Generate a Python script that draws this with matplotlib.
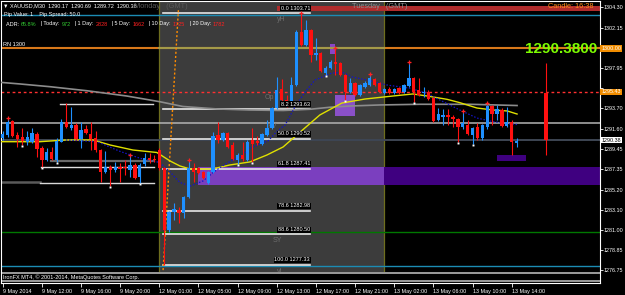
import numpy as np
import matplotlib
matplotlib.use('Agg')
import matplotlib.pyplot as plt
from matplotlib.transforms import blended_transform_factory

plt.rcParams['font.family'] = ['Liberation Sans', 'DejaVu Sans']

# ---------------- data ----------------
bar_idx = list(range(106)) + [111]
opens = [1290.60, 1290.92, 1292.39, 1290.92, 1290.68, 1290.22, 1290.22, 1291.03, 1289.56, 1288.31,
         1289.18, 1288.31, 1290.22, 1292.32, 1291.70, 1291.97, 1290.47, 1291.52, 1291.03, 1290.58,
         1289.35, 1287.08, 1287.54, 1287.22, 1287.54, 1287.54, 1287.26, 1287.78, 1286.49, 1287.85,
         1288.48, 1288.45, 1289.40, 1287.44, 1280.97, 1282.89, 1283.07, 1282.72, 1284.46, 1287.44,
         1287.44, 1287.08, 1285.86, 1287.08, 1290.92, 1290.40, 1291.10, 1289.88, 1288.31, 1288.83,
         1288.31, 1290.40, 1290.33, 1289.98, 1290.92, 1291.62, 1293.72, 1295.71, 1294.59, 1294.41,
         1296.16, 1301.74, 1300.35, 1301.92, 1299.30, 1299.48, 1297.45, 1297.91, 1298.60, 1298.43,
         1297.21, 1295.46, 1296.34, 1295.11, 1296.00, 1296.16, 1296.76, 1296.34, 1295.36, 1295.71,
         1295.36, 1295.82, 1295.46, 1296.06, 1296.92, 1295.64, 1295.29, 1295.46, 1294.77, 1292.50,
         1292.84, 1293.02, 1292.84, 1292.57, 1291.73, 1291.97, 1290.92, 1291.73, 1290.58, 1291.73,
         1293.96, 1293.12, 1293.54, 1291.87, 1292.32, 1290.05, 1295.29]
highs = [1291.35, 1292.67, 1292.50, 1291.27, 1291.65, 1291.33, 1291.65, 1291.20, 1289.76, 1289.56,
         1289.70, 1290.58, 1292.57, 1294.24, 1293.89, 1292.18, 1292.32, 1291.97, 1292.32, 1291.38,
         1289.46, 1289.28, 1287.78, 1288.13, 1287.96, 1288.31, 1288.72, 1287.99, 1287.99, 1289.01,
         1289.04, 1288.83, 1289.60, 1287.60, 1283.00, 1283.77, 1283.41, 1284.55, 1288.23, 1287.96,
         1287.60, 1287.20, 1287.20, 1291.27, 1292.32, 1291.27, 1291.24, 1290.22, 1289.04, 1290.22,
         1290.40, 1291.62, 1290.82, 1291.15, 1292.50, 1293.85, 1296.97, 1296.76, 1295.11, 1297.03,
         1301.92, 1303.60, 1302.97, 1302.05, 1301.05, 1299.65, 1298.15, 1298.75, 1300.00, 1298.55,
         1297.35, 1296.90, 1296.48, 1296.27, 1296.55, 1297.28, 1296.90, 1296.45, 1295.85, 1295.92,
         1295.82, 1295.95, 1296.30, 1298.50, 1297.05, 1296.92, 1295.95, 1295.60, 1294.90, 1293.72,
         1293.65, 1293.62, 1293.00, 1292.70, 1293.36, 1292.50, 1291.75, 1292.18, 1292.05, 1294.24,
         1294.10, 1294.07, 1293.70, 1293.89, 1292.45, 1290.62, 1298.43]
lows = [1290.40, 1290.72, 1290.72, 1289.70, 1289.88, 1289.88, 1290.10, 1288.65, 1287.60, 1288.20,
        1288.31, 1288.13, 1290.19, 1291.66, 1291.45, 1290.40, 1289.53, 1291.03, 1289.35, 1289.15,
        1286.03, 1286.94, 1285.58, 1287.05, 1286.03, 1286.73, 1286.56, 1286.31, 1285.86, 1287.68,
        1287.99, 1288.10, 1287.30, 1277.33, 1280.76, 1282.02, 1281.74, 1282.20, 1284.30, 1286.03,
        1286.80, 1286.30, 1285.79, 1286.95, 1290.08, 1290.29, 1289.56, 1288.31, 1287.89, 1288.20,
        1288.20, 1288.13, 1289.88, 1289.90, 1290.80, 1291.50, 1293.60, 1294.38, 1293.89, 1294.28,
        1296.06, 1300.25, 1300.20, 1298.60, 1298.78, 1297.50, 1297.21, 1297.80, 1297.21, 1297.10,
        1294.59, 1295.35, 1295.00, 1295.01, 1295.85, 1296.05, 1296.05, 1295.35, 1295.25, 1295.22,
        1295.25, 1295.18, 1295.35, 1295.95, 1294.41, 1295.00, 1294.90, 1294.60, 1292.30, 1292.40,
        1291.97, 1291.97, 1291.73, 1290.22, 1291.60, 1290.90, 1289.98, 1290.45, 1290.45, 1291.60,
        1291.97, 1292.50, 1291.75, 1291.75, 1288.83, 1289.63, 1288.83]
closes = [1291.00, 1292.32, 1290.82, 1290.50, 1290.29, 1290.72, 1291.10, 1289.46, 1288.31, 1289.18,
          1288.41, 1290.29, 1292.32, 1291.79, 1291.97, 1290.47, 1291.45, 1291.10, 1290.47, 1289.35,
          1287.08, 1287.60, 1287.26, 1287.60, 1287.40, 1287.44, 1287.78, 1286.39, 1287.78, 1288.48,
          1288.31, 1288.31, 1287.44, 1280.97, 1282.89, 1283.14, 1282.72, 1284.46, 1287.44, 1287.08,
          1286.91, 1286.39, 1287.08, 1290.82, 1290.40, 1291.10, 1289.70, 1288.38, 1288.83, 1288.38,
          1290.22, 1289.98, 1290.05, 1291.03, 1291.62, 1293.72, 1295.64, 1294.59, 1294.31, 1296.16,
          1301.74, 1300.35, 1301.92, 1299.30, 1299.48, 1297.66, 1297.91, 1298.60, 1298.36, 1297.21,
          1295.46, 1296.34, 1295.11, 1296.16, 1296.40, 1296.86, 1296.16, 1295.46, 1295.71, 1295.36,
          1295.71, 1295.29, 1296.16, 1296.86, 1295.46, 1295.11, 1295.46, 1294.66, 1292.39, 1293.12,
          1293.02, 1292.78, 1292.57, 1291.79, 1292.21, 1291.03, 1291.62, 1290.58, 1291.97, 1293.96,
          1293.12, 1293.62, 1291.87, 1292.32, 1290.22, 1290.33, 1290.38]

fractal_up_idx = [1, 26, 38, 61, 68, 75, 83, 94, 99]
fractal_dn_idx = [4, 8, 11, 22, 28, 48, 51, 66, 70, 84, 93, 96]

# moving averages
yellow_x = [-0.5, 7.6, 12.9, 18.5, 21.9, 26.6, 31.5, 34.2, 36.2, 38.3, 42.8, 46.4, 50.5, 54.0,
            57.3, 60.8, 64.8, 69.3, 74.0, 79.8, 83.8, 86.7, 90.8, 93.4, 96.9, 100.2, 103.1, 105.1]
yellow_y = [1290.22, 1290.22, 1290.40, 1290.40, 1289.88, 1289.35, 1289.09, 1288.20, 1287.68, 1287.36,
            1287.36, 1287.78, 1288.10, 1288.83, 1289.67, 1291.24, 1293.02, 1294.27, 1294.69, 1295.01,
            1295.22, 1295.01, 1294.66, 1294.31, 1293.75, 1293.54, 1293.44, 1293.12]
blue_x = [12.9, 19.3, 24.0, 28.1, 32.1, 34.2, 36.2, 38.3, 40.9, 43.4, 45.8, 48.9, 50.5, 54.2, 56.1,
          57.7, 59.7, 61.8, 63.8, 67.3, 69.5, 71.4, 74.4, 78.5, 83.2, 86.7, 90.0, 93.4, 96.9, 100.2,
          103.7, 105.1]
blue_y = [1290.40, 1290.22, 1289.20, 1288.48, 1288.04, 1287.05, 1285.95, 1285.58, 1286.10, 1287.15,
          1287.99, 1288.72, 1289.56, 1290.29, 1291.34, 1291.97, 1293.86, 1295.43, 1296.68, 1297.42,
          1297.47, 1297.00, 1296.68, 1296.16, 1295.82, 1295.29, 1294.41, 1293.54, 1292.70, 1292.32,
          1292.08, 1292.02]
gray_x = [-0.5, 3.5, 9.7, 17.2, 25.3, 32.1, 36.8, 43.8, 50.5, 57.3, 62.8, 66.9, 71.0, 77.1, 85.3,
          95.5, 105.1]
gray_y = [1296.44, 1296.27, 1295.98, 1295.56, 1295.01, 1294.41, 1293.91, 1293.65, 1293.54, 1293.49,
          1293.62, 1293.83, 1293.96, 1294.07, 1294.14, 1294.14, 1294.01]

# session (Monday) and levels
monday_start, monday_end = 31.85, 78.0
fib_start, fib_end = 32.75, 62.8
fib_prices = [1303.71, 1293.63, 1290.52, 1287.41, 1282.98, 1280.50, 1277.33]
fib_labels = ['0.0 1303.71', '8.2 1293.63', '50.0 1290.52', '61.8 1287.41', '78.6 1282.98',
              '88.6 1280.50', '100.0 1277.33']
round_number = 1300.00
red_level = 1295.43
bid_price = 1290.38
gray_level = 1292.18
green_level = 1280.73
teal_levels = [1303.49, 1277.25]
zone_top, zone_bot, zone_start = 1287.57, 1285.69, 39.9
small_zones = [(66.9, 68.0, 1300.46, 1299.41, '#8a45c8'),
               (67.9, 72.0, 1295.11, 1292.92, '#8a50c8'),
               (101.0, 106.9, 1288.83, 1288.20, '#3f0080')]
left_segments = [(11.7, 30.7, 1294.17, '#d8d8d8', 1.0),
                 (9.9, 30.9, 1288.20, '#6a6a6a', 1.6),
                 (7.8, 30.9, 1287.54, '#e0e0e0', 1.0),
                 (-0.5, 7.6, 1285.96, '#5a5a5a', 1.8),
                 (7.6, 30.9, 1285.93, '#d8d8d8', 1.0)]
orange_trend = [(35.9, 1304.0), (32.75, 1276.57)]
red_band = (56.0, 122.0, 1304.44, 1303.95)
price_ticks = [1304.30, 1302.15, 1300.05, 1297.95, 1295.80, 1293.70, 1291.60, 1289.45,
               1287.35, 1285.20, 1283.10, 1281.00, 1278.85, 1276.75]
hidden_tick_labels = [1300.05, 1295.80]
time_tick_idx = [0, 8, 16, 24, 32, 40, 48, 56, 64, 72, 80, 88, 96, 104]
time_labels = ['9 May 2014', '9 May 12:00', '9 May 16:00', '9 May 20:00', '12 May 01:00',
               '12 May 05:00', '12 May 09:00', '12 May 13:00', '12 May 17:00', '12 May 21:00',
               '13 May 02:00', '13 May 06:00', '13 May 10:00', '13 May 14:00']

# ---------------- figure ----------------
W, H = 625, 295
fig = plt.figure(figsize=(6.25, 2.95), dpi=100, facecolor='black')
def fx(px): return px / W
def fy(py): return 1 - py / H

XL, XR = 1.0, 599.5
xmin, xmax = (XL - 2.7) / 4.894, (XR - 2.7) / 4.894
ymax, ymin = 1304.96, 1276.57

ax = fig.add_axes([fx(XL), fy(272), (XR - XL) / W, 271 / H])
ax.set_facecolor('black')
ax.set_xlim(xmin, xmax)
ax.set_ylim(ymin, ymax)
for s in ['left', 'top', 'right']:
    ax.spines[s].set_color('white'); ax.spines[s].set_linewidth(0.8)
ax.spines['bottom'].set_visible(False)

# session shading
ax.axvspan(monday_start, monday_end, color='#3c3c3c', zorder=0, lw=0)
for v in (monday_start, monday_end):
    ax.axvline(v, color='#6e6e1e', lw=0.9, zorder=1)

# purple zone
ax.add_patch(plt.Rectangle((zone_start, zone_bot), monday_end - zone_start, zone_top - zone_bot,
                           color='#7b3fbf', lw=0, zorder=1))
ax.add_patch(plt.Rectangle((monday_end, zone_bot), xmax - monday_end, zone_top - zone_bot,
                           color='#3f0080', lw=0, zorder=1))
for x0, x1, t, b, c in small_zones:
    ax.add_patch(plt.Rectangle((x0, b), x1 - x0, t - b, color=c, lw=0, zorder=1.5))

# red band on top
ax.add_patch(plt.Rectangle((red_band[0], red_band[3]), red_band[1] - red_band[0],
                           red_band[2] - red_band[3], color='#b02c2c', lw=0, zorder=1))

# horizontal levels
ax.axhline(teal_levels[0], color='#1c8cb4', lw=1.0, zorder=2)
ax.axhline(teal_levels[1], color='#1c8cb4', lw=1.0, zorder=2)
ax.axhline(round_number, color='#d8781a', lw=1.5, zorder=2)
ax.plot([monday_start, monday_end], [round_number] * 2, color='#a49a48', lw=1.5, zorder=2.1)
ax.axhline(gray_level, color='#b4b4b4', lw=1.1, zorder=2)
ax.axhline(bid_price, color='#3e4654', lw=1.4, zorder=2)
ax.axhline(green_level, color='#007800', lw=1.0, zorder=2)
ax.axhline(red_level, color='#ff3030', lw=1.0, ls=(0, (2, 2)), zorder=2)
for x0, x1, p, c, lw in left_segments:
    ax.plot([x0, x1], [p, p], color=c, lw=lw, zorder=2)

# fib lines
for p in fib_prices:
    ax.plot([fib_start, fib_end], [p, p], color='#e6e6e6', lw=1.2, zorder=2.2)
for p, lab in zip(fib_prices, fib_labels):
    ax.text(fib_end, p + 0.25, lab, color='white', fontsize=4.0, ha='right', va='bottom', zorder=6,
            bbox=dict(facecolor='black', edgecolor='none', pad=0.4))

# orange dotted trend
ax.plot([orange_trend[0][0], orange_trend[1][0]], [orange_trend[0][1], orange_trend[1][1]],
        color='#ff8c00', lw=1.0, ls=(0, (1.5, 1.5)), zorder=2.5)

# moving averages
ax.plot(gray_x, gray_y, color='#8c8c8c', lw=1.2, zorder=2.6)
ax.plot(yellow_x, yellow_y, color='#e0e000', lw=1.0, zorder=2.7)
ax.plot(blue_x, blue_y, color='#1414c8', lw=0.9, ls=(0, (1.2, 1.4)), zorder=2.7)

# candles
o = np.array(opens); h = np.array(highs); l = np.array(lows); c = np.array(closes)
xi = np.array(bar_idx)
up = c >= o
cols = np.where(up, '#1e90ff', '#ff1010')
ax.vlines(xi, l, h, colors=cols, lw=0.8, zorder=4)
body_bot = np.minimum(o, c)
body_h = np.maximum(np.abs(c - o), 0.09)
ax.bar(xi, body_h, bottom=body_bot, width=0.68, color=cols, lw=0, zorder=4.5)

# fractal markers
ax.plot(xi[fractal_up_idx], h[fractal_up_idx] + 0.08, ls='none', marker='+', ms=2.8, mew=0.9,
        color='#ff2020', zorder=5)
ax.plot(xi[fractal_dn_idx], l[fractal_dn_idx] - 0.12, ls='none', marker='s', ms=1.4, mew=0,
        color='white', zorder=5)

# small labels on levels
for txt, xx, yy in [('yH', 56.0, 1303.0), ('Op', 53.6, 1294.9), ('PV', 54.1, 1291.8),
                    ('SY', 55.2, 1279.9), ('yL', 56.0, 1276.6)]:
    ax.text(xx, yy, txt, color='#6e6e6e', fontsize=5, ha='left', va='center', zorder=3)

# right axis ticks
ax.yaxis.tick_right()
ax.set_yticks(price_ticks)
ax.set_yticklabels(['' if v in hidden_tick_labels else f'{v:.2f}' for v in price_ticks])
ax.tick_params(axis='y', colors='white', labelsize=3.9, length=2, width=0.6, pad=1.2)
ax.set_xticks([])
bt = blended_transform_factory(ax.transAxes, ax.transData)
for val, txt, fc, tc in [(round_number, '1300.00', '#f08c00', 'white'),
                         (red_level, '1295.43', '#f08c00', 'white'),
                         (bid_price, '1290.38', 'white', 'black')]:
    ax.text(1.003, val, txt, transform=bt, fontsize=3.9, color=tc, ha='left', va='center',
            clip_on=False, zorder=10, bbox=dict(facecolor=fc, edgecolor='none', pad=0.6))

# sub window
ax2 = fig.add_axes([fx(XL), fy(283), (XR - XL) / W, 11 / H])
ax2.set_facecolor('black')
ax2.set_xlim(xmin, xmax)
ax2.set_ylim(0, 1)
for s in ['left', 'right', 'bottom']:
    ax2.spines[s].set_color('white'); ax2.spines[s].set_linewidth(0.8)
ax2.spines['top'].set_visible(False)
ax2.axhline(0.88, color='#a8a8a8', lw=1.3)
ax2.axhline(0.2, color='#a8a8a8', lw=1.3)
ax2.text(0.003, 0.5, 'IronFX MT4, © 2001-2014, MetaQuotes Software Corp.', transform=ax2.transAxes,
         color='white', fontsize=4.0, ha='left', va='center')
ax2.set_yticks([])
ax2.set_xticks(time_tick_idx)
ax2.set_xticklabels(time_labels)
for lbl in ax2.get_xticklabels():
    lbl.set_ha('left')
ax2.tick_params(axis='x', colors='white', labelsize=3.9, length=3, width=0.6, pad=1.5)

# header texts
fig.text(fx(3), fy(5.5), '▼ XAUUSD,M30  1290.17  1290.69  1289.72  1290.38', color='white',
         fontsize=4.0, ha='left', va='center')
fig.text(fx(4), fy(14.5), 'Pip Value: 1    Pip Spread: 50.0', color='white', fontsize=4.0,
         ha='left', va='center')
fig.text(fx(3), fy(45), 'RN 1300', color='white', fontsize=4.0, ha='left', va='center')
fig.text(fx(134), fy(6.5), 'Monday   (GMT)', color='#5a5a5a', fontsize=5.3, ha='left', va='center')
fig.text(fx(352), fy(6.5), 'Tuesday   (GMT)', color='#8e8e8e', fontsize=5.3, ha='left', va='center')
fig.text(fx(593), fy(7), 'Candle: 16:38', color='#ff8c1a', fontsize=5.3, ha='right', va='center')
fig.text(fx(597), fy(49), '1290.3800', color='#7cfc00', fontsize=11, fontweight='bold',
         ha='right', va='center')

renderer = fig.canvas.get_renderer()
pieces = [('ADR: ', 'white'), ('65.8%', '#32cd32'), ('   | Today: ', 'white'), ('972', '#32cd32'),
          ('   | 1 Day: ', 'white'), ('2828', '#ff2020'), ('   | 5 Day: ', 'white'), ('1662', '#ff2020'),
          ('   | 10 Day: ', 'white'), ('1725', '#ff2020'), ('   | 20 Day: ', 'white'), ('1782', '#ff2020')]
xpos = 6.0
for txt, col in pieces:
    t = fig.text(fx(xpos), fy(24), txt, color=col, fontsize=4.0, ha='left', va='center')
    bb = t.get_window_extent(renderer)
    xpos += bb.width

fig.savefig('out.png', dpi=100, facecolor='black')
